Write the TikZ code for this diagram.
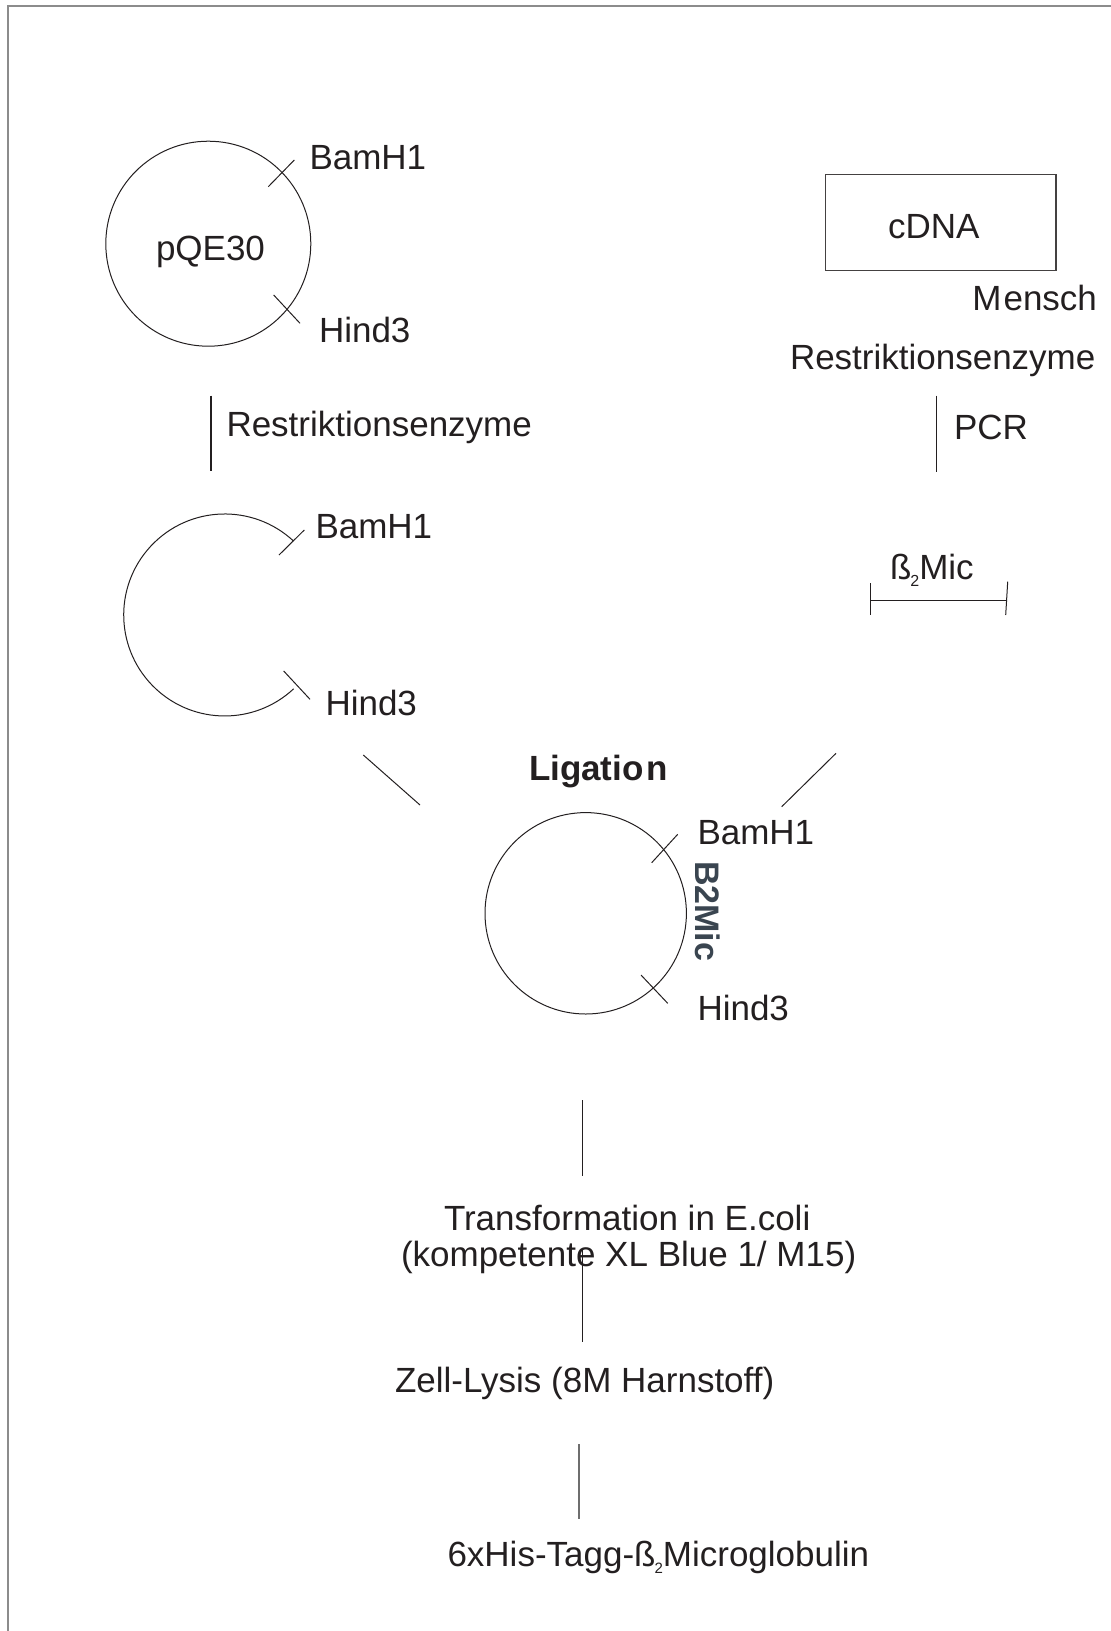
\documentclass[tikz,border=0pt]{standalone}
\usepackage{fontspec}
\setmainfont{Liberation Sans}
\definecolor{ink}{HTML}{231F20}
\definecolor{framegray}{HTML}{8C8C8C}
\definecolor{slate}{HTML}{3A4550}
\definecolor{stemgray}{HTML}{6E6E6E}
% beta with a lowered small 2
\newcommand{\betatwo}[2]{ß\kern-1pt\raisebox{-#2pt}{\fontsize{#1}{#1}\selectfont 2}}
\begin{document}
\begin{tikzpicture}[x=1pt,y=-1pt,
  lbl/.style={anchor=base west, inner sep=0pt, outer sep=0pt,
              font=\fontsize{35}{42}\selectfont, text=ink},
  thinline/.style={line width=1pt, draw=ink},
  stemline/.style={line width=1.2pt, draw=ink},
  framerule/.style={line width=1.8pt, draw=framegray},
  boxnode/.style={draw=ink!85, line width=1.2pt, inner sep=0pt,
                  minimum width=230.7pt, minimum height=96.4pt}]
\useasboundingbox (0,0) rectangle (1111,1631);

% frame edges (top and left)
\draw[framerule] (7.7,1631) -- (7.7,5.7) -- (1111,5.7);

% ---- vector pQE30 ----
\coordinate (pqe) at (208.3,243.7);
\draw[thinline] (pqe) circle[radius=102.5];
\draw[thinline] (268.3,186.7) -- (294.3,160);
\draw[thinline] (273.7,295) -- (300,323.3);
\node[lbl] (pqetxt) at (156,260) {pQE30};
\node[lbl] (bam1) at (309.5,169.3) {BamH1};
\node[lbl] (hind1) at (319,342.7) {Hind3};

% restriction step, left
\coordinate (rl1) at (211,395.7);
\coordinate (rl2) at (211,470.7);
\draw[stemline] (rl1) -- (rl2);
\node[lbl] (restl) at (226.5,436.7) {Restriktionsenzyme};

% ---- opened vector ----
\draw[thinline] (293.6,541.1) arc[start angle=-47, end angle=-313, radius=101];
\draw[thinline] (279,555) -- (304.3,530);
\draw[thinline] (283.7,671) -- (310,699.3);
\node[lbl] (bam2) at (315.5,538.3) {BamH1};
\node[lbl] (hind2) at (325.5,715) {Hind3};

% ---- cDNA branch ----
\node[boxnode] (cdna) at (940.7,222.5) {};
\node[lbl] (cdnatxt) at (888,238.3) {cDNA};
\node[lbl] (mensch) at (972.4,310.7) {M\kern2pt ensch};
\node[lbl] (restr) at (790,369) {Restriktionsenzyme};
\coordinate (pcr1) at (936.3,395.7);
\coordinate (pcr2) at (936.3,471.7);
\draw[stemline] (pcr1) -- (pcr2);
\node[lbl] (pcr) at (954,439.3) {PCR};

% insert fragment
\node[lbl] (mic) at (890,579.3) {\betatwo{16}{7}Mic};
\coordinate (fragl) at (870.7,600.7);
\coordinate (fragr) at (1006.7,600.7);
\draw[thinline] (fragl) -- (fragr);
\draw[thinline] (870.7,583.3) -- (870.7,615);
\draw[thinline] (1007.7,581.7) -- (1005.7,615);

% ---- ligation ----
\coordinate (dl1) at (363.3,755);
\coordinate (dl2) at (420,805);
\coordinate (dr1) at (836,753.3);
\coordinate (dr2) at (781.7,806.7);
\draw[thinline] (dl1) -- (dl2);
\draw[thinline] (dr1) -- (dr2);
\node[lbl, font=\fontsize{35}{42}\selectfont\bfseries] (lig) at (529,780) {Ligatio\kern3pt n};

\coordinate (lig c) at (585.7,913.3);
\draw[thinline] (lig c) circle[radius=100.7];
\draw[thinline] (651.7,862.7) -- (677.7,834.3);
\draw[thinline] (641,975) -- (667.7,1003.3);
\node[lbl] (bam3) at (697.5,844.3) {BamH1};
\node[lbl] (hind3) at (697.5,1020) {Hind3};
\node[lbl, rotate=-90, text=slate, font=\fontsize{34}{40}\selectfont\bfseries] (b2mic) at (695,861) {B2Mic};

% ---- downstream steps ----
\coordinate (s1a) at (582.3,1100);
\coordinate (s1b) at (582.3,1175.7);
\draw[stemline] (s1a) -- (s1b);
\node[lbl] (trans1) at (444,1230) {Transformation in E.coli};
\coordinate (s2a) at (582.3,1250);
\coordinate (s2b) at (582.3,1342.3);
\draw[stemline] (s2a) -- (s2b);
\node[lbl] (trans2) at (401,1266.7) {(kompetente XL Blue 1/ M15)};
\node[lbl] (lysis) at (395,1392.7) {Zell-Lysis (8M Harnstoff)};
\coordinate (s3a) at (579,1444);
\coordinate (s3b) at (579,1519.3);
\draw[stemline, draw=stemgray] (s3a) -- (s3b);
\node[lbl] (prod) at (447.5,1566.7) {6xHis-Tagg-\betatwo{15}{7}Microglobulin};
\end{tikzpicture}
\end{document}
